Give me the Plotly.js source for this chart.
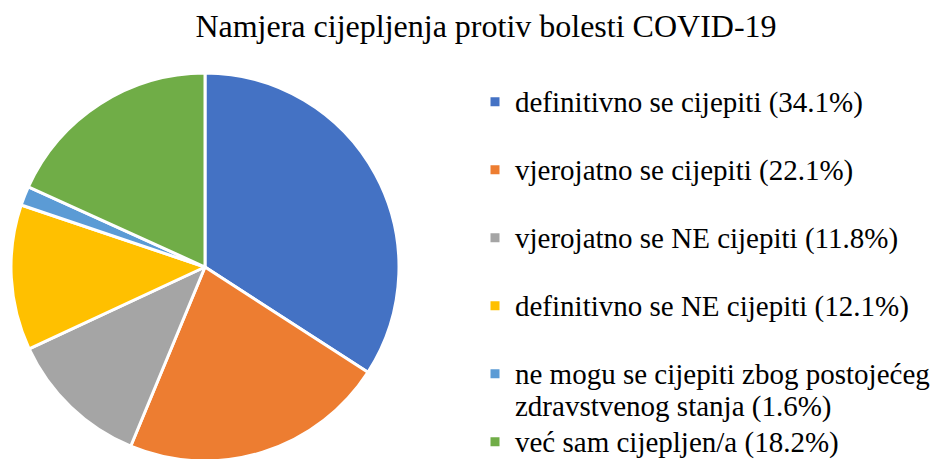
<!DOCTYPE html>
<html>
<head>
<meta charset="utf-8">
<script src="https://cdn.plot.ly/plotly-3.0.1.min.js"></script>
<style>
html, body { margin: 0; padding: 0; overflow: hidden; background: #fff; }
#chart { width: 936px; height: 470px; }
</style>
</head>
<body>
<div id="chart"></div>
<script>
const categories = [
  "definitivno se cijepiti (34.1%)",
  "vjerojatno se cijepiti (22.1%)",
  "vjerojatno se NE cijepiti (11.8%)",
  "definitivno se NE cijepiti (12.1%)",
  "ne mogu se cijepiti zbog postojećeg<br>zdravstvenog stanja (1.6%)",
  "već sam cijepljen/a (18.2%)"
];
const values = [34.1, 22.1, 11.8, 12.1, 1.6, 18.2];
const colors = ["#4472C4", "#ED7D31", "#A5A5A5", "#FFC000", "#5B9BD5", "#70AD47"];
const padAfter = [true, true, true, true, false, false];

const GLYPH = 29;
const legendLabels = categories.map((c, i) => {
  const lines = c.split("<br>").map(l => '<span style="font-size:' + GLYPH + 'px">' + l + '</span>');
  if (padAfter[i]) lines.push("\u00A0");
  return lines.join("<br>");
});

const W = 936, H = 470;
const cx = 205, cy = 267, r = 194;
const SERIF = "Liberation Serif";

const trace = {
  type: "pie",
  labels: legendLabels,
  values: values,
  sort: false,
  direction: "clockwise",
  rotation: 0,
  textinfo: "none",
  hoverinfo: "percent",
  marker: { colors: colors, line: { color: "#ffffff", width: 3 } },
  domain: { x: [(cx - r) / W, (cx + r) / W], y: [(H - cy - r) / H, (H - cy + r) / H] }
};

const layout = {
  width: W, height: H,
  margin: { l: 0, r: 0, t: 0, b: 0 },
  paper_bgcolor: "#ffffff",
  font: { family: SERIF, color: "#000000" },
  title: {
    text: "Namjera cijepljenja protiv bolesti COVID-19",
    font: { family: SERIF, size: 32, color: "#000000" },
    x: 486 / W, xanchor: "center",
    y: 1 - 26 / H, yanchor: "middle", yref: "container"
  },
  showlegend: true,
  legend: {
    x: 475 / W, xanchor: "left",
    y: 1 - 79 / H, yanchor: "top",
    valign: "top",
    font: { family: SERIF, size: 25, color: "#000000" },
    bgcolor: "rgba(0,0,0,0)",
    borderwidth: 0
  }
};

Plotly.newPlot("chart", [trace], layout, { displayModeBar: false, staticPlot: true });
</script>
</body>
</html>
